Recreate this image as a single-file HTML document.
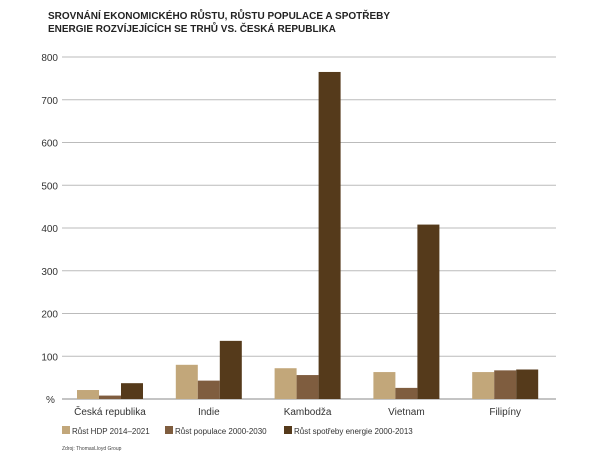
<!DOCTYPE html>
<html><head><meta charset="utf-8"><style>
body{margin:0;background:#fff;width:604px;height:458px;overflow:hidden;font-family:"Liberation Sans",sans-serif}
svg text{font-family:"Liberation Sans",sans-serif}
</style></head><body>
<svg width="604" height="458">
<text x="48" y="19" font-size="10" font-weight="bold" fill="#222">SROVNÁNÍ EKONOMICKÉHO RŮSTU, RŮSTU POPULACE A SPOTŘEBY</text>
<text x="48" y="32" font-size="10" font-weight="bold" fill="#222">ENERGIE ROZVÍJEJÍCÍCH SE TRHŮ VS. ČESKÁ REPUBLIKA</text>
<g id="grid"></g><g id="bars"></g><g id="labels"></g>
<g>
<rect x="62" y="426" width="8" height="8" fill="#c2a77a"/><text x="72" y="434" font-size="8" fill="#333">Růst HDP 2014–2021</text>
<rect x="165" y="426" width="8" height="8" fill="#7f5d3f"/><text x="175" y="434" font-size="8" fill="#333">Růst populace 2000-2030</text>
<rect x="284" y="426" width="8" height="8" fill="#553a1b"/><text x="294" y="434" font-size="8" fill="#333">Růst spotřeby energie 2000-2013</text>
</g>
<text x="62" y="450" font-size="5" fill="#444">Zdroj: ThomasLloyd Group</text>
</svg>
<script>
const categories=["Česká republika","Indie","Kambodža","Vietnam","Filipíny"];
const gdp=[21,80,72,63,63];
const population=[8,43,56,26,67];
const energy=[37,136,765,408,69];
const ticks=[100,200,300,400,500,600,700,800];
const colors=["#c2a77a","#7f5d3f","#553a1b"];
const NS="http://www.w3.org/2000/svg";
const x0=62,x1=556,yTop=57,yBase=399,maxV=800;
const y=v=>yBase-(v/maxV)*(yBase-yTop);
const groupW=(x1-x0)/categories.length, barW=22;
function mk(t,a,p){const e=document.createElementNS(NS,t);for(const k in a)e.setAttribute(k,a[k]);p.appendChild(e);return e;}
const grid=document.getElementById('grid'),bars=document.getElementById('bars'),labels=document.getElementById('labels');
const base=mk('line',{x1:x0,x2:x1,y1:yBase,y2:yBase,stroke:'#888','stroke-width':1},grid);


const pct=mk('text',{x:46,y:yBase+4,'font-size':10,fill:'#333'},labels);pct.textContent='%';


ticks.forEach(t=>{
 const l=mk('line',{x1:x0,x2:x1,y1:y(t),y2:y(t),stroke:'#bbb','stroke-width':1},grid);
 
 
 const tx=mk('text',{x:58,y:y(t)+4,'font-size':10,fill:'#333','text-anchor':'end'},labels);tx.textContent=t;
 
 
});
const series=[gdp,population,energy];
categories.forEach((c,i)=>{
 const gx=x0+15+i*groupW;
 series.forEach((s,j)=>{
  const r=mk('rect',{x:gx+j*barW,y:y(s[i]),width:barW,height:yBase-y(s[i]),fill:colors[j]},bars);
  
  
 });
 const tx=mk('text',{x:gx+1.5*barW,y:415,'font-size':10,fill:'#333','text-anchor':'middle'},labels);tx.textContent=c;
 
 
});
</script>
</body></html>
